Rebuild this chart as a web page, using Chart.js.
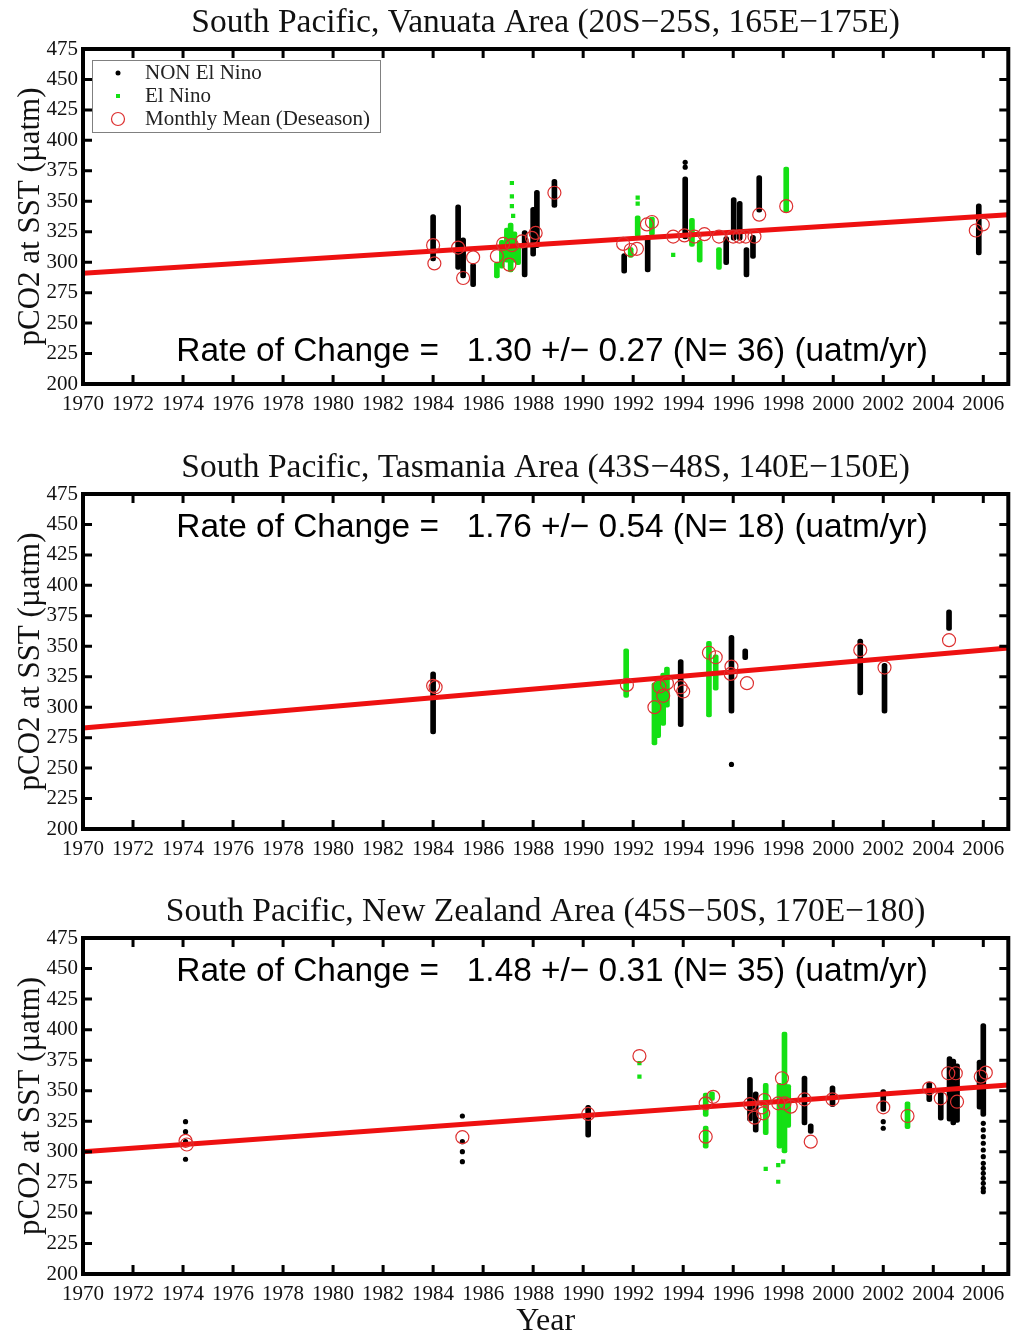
<!DOCTYPE html>
<html>
<head>
<meta charset="utf-8">
<title>South Pacific pCO2</title>
<script src="https://cdn.jsdelivr.net/npm/chart.js@4.4.0/dist/chart.umd.min.js"></script>
<style>
    html, body { margin: 0; padding: 0; background: #fff; }
    body { position: relative; width: 1016px; height: 1339px; overflow: hidden; }
    canvas { position: absolute; left: 0; }
</style>
</head>
<body>
<canvas id="vanuatu" width="1016" height="420" style="top:0px"></canvas>
<canvas id="tasmania" width="1016" height="420" style="top:445px"></canvas>
<canvas id="newzealand" width="1016" height="450" style="top:889px"></canvas>
<script>
    /* DATA */

    var xTickYears = [1970, 1972, 1974, 1976, 1978, 1980, 1982, 1984, 1986, 1988, 1990, 1992, 1994, 1996, 1998, 2000, 2002, 2004, 2006];

    // Vanuata area: columns are [year, low, high], dots and means are [year, value]
    var vanNonCols = [
        [1984.0, 301, 339], [1985.0, 294, 347], [1985.2, 287, 320], [1985.6, 280, 299],
        [1987.66, 288, 326], [1988.0, 305, 345], [1988.15, 312, 359], [1988.85, 345, 368],
        [1991.64, 291, 307], [1992.58, 292, 322], [1994.08, 319, 370], [1995.72, 298, 321],
        [1996.02, 318, 353], [1996.26, 318, 350], [1996.53, 288, 312], [1996.79, 303, 322],
        [1997.04, 341, 371], [2005.82, 306, 348]
    ];
    var vanNonDots = [[1994.08, 378], [1994.08, 382]];
    var vanNinoCols = [
        [1986.55, 287, 300], [1986.75, 295, 318], [1986.95, 300, 328], [1987.1, 292, 332],
        [1987.25, 300, 325], [1987.4, 298, 315], [1991.9, 304, 312], [1992.18, 321, 338],
        [1992.75, 322, 337], [1994.35, 313, 336], [1994.66, 300, 318], [1995.43, 294, 312],
        [1998.12, 341, 378]
    ];
    var vanNinoDots = [[1987.15, 365], [1987.15, 354], [1987.15, 346], [1987.2, 338], [1992.18, 353], [1992.18, 348], [1993.6, 306]];
    var vanMeans = [
        [1984.0, 314], [1984.05, 299], [1985.0, 312], [1985.2, 287], [1985.6, 304],
        [1986.55, 305], [1986.8, 315], [1987.05, 298], [1987.15, 314], [1987.55, 317],
        [1987.95, 320], [1988.1, 324], [1988.85, 357], [1991.6, 315], [1991.9, 310],
        [1992.15, 311], [1992.55, 331], [1992.75, 333], [1993.6, 321], [1994.05, 322],
        [1994.45, 321], [1994.85, 323], [1995.43, 321], [1996.0, 321], [1996.25, 321],
        [1996.5, 321], [1996.85, 321], [1997.04, 339], [1998.12, 346], [2005.7, 326], [2005.98, 331]
    ];
    var vanTrend = [[1970, 291], [2007, 339]];

    // Tasmania area
    var tasNonCols = [
        [1984.0, 278, 329], [1993.9, 284, 339], [1995.93, 295, 359], [1996.48, 339, 348],
        [2001.08, 310, 356], [2002.05, 295, 336], [2004.63, 363, 380]
    ];
    var tasNonDots = [[1995.93, 253]];
    var tasNinoCols = [
        [1991.72, 308, 348], [1992.85, 269, 320], [1993.0, 275, 325], [1993.2, 285, 328],
        [1993.35, 300, 333], [1995.03, 292, 354], [1995.3, 314, 343]
    ];
    var tasNinoDots = [];
    var tasMeans = [
        [1984.0, 317.5], [1984.1, 316.4], [1991.75, 318.3], [1992.85, 300], [1993.2, 309.3],
        [1993.05, 317], [1993.35, 319.7], [1993.9, 316.4], [1994.0, 312.9], [1995.03, 344.7],
        [1995.3, 341], [1995.93, 333.3], [1995.9, 327.3], [1996.55, 319.7], [2001.08, 346.9],
        [2002.05, 332.5], [2004.63, 355]
    ];
    var tasTrend = [[1970, 283], [2007, 348.5]];

    // New Zealand area
    var nzNonCols = [
        [1990.2, 312, 338], [1996.67, 325, 361], [1996.9, 316, 349], [1998.85, 322, 362],
        [1999.1, 315, 323], [1999.97, 337, 354], [2002.0, 333, 351], [2003.84, 341, 357],
        [2004.3, 326, 352], [2004.65, 325, 378], [2004.8, 322, 376], [2004.95, 324, 372],
        [2005.85, 335, 375], [2006.0, 329, 405]
    ];
    var nzNonDots = [
        [1974.1, 324.7], [1974.1, 316.5], [1974.1, 308.3], [1974.1, 293.9],
        [1985.17, 329.3], [1985.17, 308.3], [1985.17, 300.1], [1985.17, 291.9],
        [2002.0, 324.7], [2002.0, 319.3],
        [2006.0, 323.3], [2006.0, 317.9], [2006.0, 312.4], [2006.0, 307], [2006.0, 301.5],
        [2006.0, 296], [2006.0, 290.6], [2006.0, 286.5], [2006.0, 282.4], [2006.0, 278.3],
        [2006.0, 274.2], [2006.0, 270.1], [2006.0, 267.4]
    ];
    var nzNinoCols = [
        [1994.9, 329, 348], [1994.9, 303, 321], [1995.15, 342, 349], [1997.3, 314, 356],
        [1997.85, 303, 356], [1998.05, 299, 398], [1998.2, 320, 355], [2002.97, 319, 341]
    ];
    var nzNinoDots = [[1992.25, 372.5], [1992.25, 361.5], [1997.3, 286], [1997.8, 289.2], [1997.8, 275.5], [1998.0, 292]];
    var nzMeans = [
        [1974.1, 309], [1974.15, 306], [1985.17, 312], [1990.2, 331], [1992.25, 378.4],
        [1994.9, 339.7], [1994.9, 312.4], [1995.2, 345], [1996.67, 339], [1996.85, 328],
        [1997.15, 336.4], [1997.25, 342.4], [1997.2, 331.5], [1997.95, 360.2], [1997.8, 339.7],
        [1998.05, 339.7], [1998.3, 337], [1998.85, 343], [1999.1, 308.3], [1999.97, 343],
        [2002.0, 336.4], [2002.97, 329.3], [2003.84, 352], [2004.3, 343.8], [2004.6, 364.3],
        [2004.9, 364.3], [2004.95, 341], [2005.9, 361.5], [2006.1, 364.8]
    ];
    var nzTrend = [[1970, 300], [2007, 354.7]];

    /* STYLE */

    var SERIF = '"Liberation Serif", "Times New Roman", serif';
    var SANS = '"Liberation Sans", Arial, sans-serif';
    var GREEN = '#14e014';
    var RED = '#ee1111';
    var CIRCLE = '#dd3030';

    /* PLUGINS */

    var framePlugin = {
        id: 'frame',
        afterDatasetsDraw: (chart) => {
            var ctx = chart.ctx;
            var a = chart.chartArea;
            var x = chart.scales.x;
            var y = chart.scales.y;

            ctx.save();
            ctx.strokeStyle = '#000';
            ctx.lineWidth = 3;
            ctx.beginPath();
            x.ticks.forEach(t => {
                var px = x.getPixelForValue(t.value);
                ctx.moveTo(px, a.bottom); ctx.lineTo(px, a.bottom - 9);
                ctx.moveTo(px, a.top); ctx.lineTo(px, a.top + 9);
            });
            y.ticks.forEach(t => {
                var py = y.getPixelForValue(t.value);
                ctx.moveTo(a.left, py); ctx.lineTo(a.left + 9, py);
                ctx.moveTo(a.right, py); ctx.lineTo(a.right - 9, py);
            });
            ctx.stroke();
            ctx.lineWidth = 4;
            ctx.strokeRect(a.left, a.top, a.right - a.left, a.bottom - a.top);
            ctx.restore();
        }
    };

    var ratePlugin = {
        id: 'rate',
        afterDraw: (chart, args, opts) => {
            var ctx = chart.ctx;
            ctx.save();
            ctx.font = '33.4px ' + SANS;
            ctx.fillStyle = '#000';
            ctx.textAlign = 'left';
            ctx.textBaseline = 'middle';
            ctx.fillText(opts.text, chart.scales.x.getPixelForValue(opts.x), chart.scales.y.getPixelForValue(opts.y));
            ctx.restore();
        }
    };

    var keyPlugin = {
        id: 'key',
        afterDraw: (chart, args, opts) => {
            if (!opts.show) return;
            var ctx = chart.ctx;
            var a = chart.chartArea;
            var bx = a.left + 9;
            var by = a.top + 11;

            ctx.save();
            ctx.fillStyle = '#fff';
            ctx.fillRect(bx, by, 288, 72);
            ctx.strokeStyle = '#808080';
            ctx.lineWidth = 1;
            ctx.strokeRect(bx + 0.5, by + 0.5, 288, 72);

            ctx.fillStyle = '#000';
            ctx.beginPath();
            ctx.arc(bx + 26, by + 13, 2.5, 0, Math.PI * 2);
            ctx.fill();

            ctx.fillStyle = GREEN;
            ctx.fillRect(bx + 24, by + 34, 4, 4);

            ctx.strokeStyle = CIRCLE;
            ctx.lineWidth = 1.2;
            ctx.beginPath();
            ctx.arc(bx + 26, by + 59, 6.5, 0, Math.PI * 2);
            ctx.stroke();

            ctx.fillStyle = '#222';
            ctx.font = '21px ' + SERIF;
            ctx.textAlign = 'left';
            ctx.textBaseline = 'middle';
            ctx.fillText('NON El Nino', bx + 53, by + 13);
            ctx.fillText('El Nino', bx + 53, by + 36);
            ctx.fillText('Monthly Mean (Deseason)', bx + 53, by + 59);
            ctx.restore();
        }
    };

    /* CHARTS */

    var toCols = (rows) => rows.map(r => ({ x: r[0], y: [r[1], r[2]] }));
    var toPoints = (rows) => rows.map(r => ({ x: r[0], y: r[1] }));

    var makePanel = (id, panel) => {
        return new Chart(document.getElementById(id), {
            type: 'scatter',
            data: {
                datasets: [
                    { type: 'bar', data: toCols(panel.nonCols), backgroundColor: '#000', barThickness: 5, grouped: false, borderRadius: 2.5, borderSkipped: false, order: 4 },
                    { type: 'scatter', data: toPoints(panel.nonDots), backgroundColor: '#000', borderWidth: 0, pointRadius: 2.6, order: 4 },
                    { type: 'bar', data: toCols(panel.ninoCols), backgroundColor: GREEN, barThickness: 5, grouped: false, borderRadius: 2, borderSkipped: false, order: 3 },
                    { type: 'scatter', data: toPoints(panel.ninoDots), backgroundColor: GREEN, borderWidth: 0, pointStyle: 'rect', pointRadius: 3, order: 3 },
                    { type: 'line', data: toPoints(panel.trend), borderColor: RED, borderWidth: 5, pointRadius: 0, order: 1 },
                    { type: 'scatter', data: toPoints(panel.means), backgroundColor: 'rgba(0,0,0,0)', borderColor: CIRCLE, borderWidth: 1.2, pointRadius: 6.5, order: 0 }
                ]
            },
            options: {
                responsive: false,
                animation: false,
                events: [],
                layout: { padding: { left: 0, right: 3, top: 0, bottom: 0 } },
                scales: {
                    x: {
                        type: 'linear', min: 1970, max: 2007, offset: false,
                        afterBuildTicks: (scale) => { scale.ticks = xTickYears.map(v => ({ value: v })); },
                        afterFit: (scale) => { scale.height = panel.xAxisHeight; },
                        grid: { display: false, drawTicks: false },
                        border: { display: false },
                        ticks: { autoSkip: false, maxRotation: 0, padding: 8, color: '#111', font: { family: SERIF, size: 21 }, callback: v => String(v) },
                        title: { display: panel.showYear, text: 'Year', color: '#111', font: { family: SERIF, size: 32, lineHeight: 1 }, padding: { top: 0, bottom: 1 } }
                    },
                    y: {
                        type: 'linear', min: 200, max: 475,
                        afterFit: (scale) => { scale.width = 83; },
                        grid: { display: false, drawTicks: false },
                        border: { display: false },
                        ticks: { stepSize: 25, padding: 5, color: '#111', font: { family: SERIF, size: 21 } },
                        title: { display: true, text: 'pCO2 at SST (µatm)', color: '#111', font: { family: SERIF, size: 31, lineHeight: 1.2 }, padding: { top: 12, bottom: 0 } }
                    }
                },
                plugins: {
                    legend: { display: false },
                    tooltip: { enabled: false },
                    title: { display: true, text: panel.title, fullSize: false, color: '#111', font: { family: SERIF, size: 33.5, weight: 'normal', lineHeight: 1.2 }, padding: { top: 3, bottom: 5.8 } },
                    rate: { text: panel.rate, x: 1973.73, y: panel.rateY },
                    key: { show: panel.showKey }
                }
            },
            plugins: [framePlugin, ratePlugin, keyPlugin]
        });
    };

    makePanel('vanuatu', {
        title: 'South Pacific, Vanuata Area (20S\u221225S, 165E\u2212175E)',
        rate: 'Rate of Change =   1.30 +/\u2212 0.27 (N= 36) (uatm/yr)',
        rateY: 226.3,
        nonCols: vanNonCols, nonDots: vanNonDots, ninoCols: vanNinoCols, ninoDots: vanNinoDots,
        means: vanMeans, trend: vanTrend,
        showKey: true, showYear: false, xAxisHeight: 36
    });

    makePanel('tasmania', {
        title: 'South Pacific, Tasmania Area (43S\u221248S, 140E\u2212150E)',
        rate: 'Rate of Change =   1.76 +/\u2212 0.54 (N= 18) (uatm/yr)',
        rateY: 447,
        nonCols: tasNonCols, nonDots: tasNonDots, ninoCols: tasNinoCols, ninoDots: tasNinoDots,
        means: tasMeans, trend: tasTrend,
        showKey: false, showYear: false, xAxisHeight: 36
    });

    makePanel('newzealand', {
        title: 'South Pacific, New Zealand Area (45S\u221250S, 170E\u2212180)',
        rate: 'Rate of Change =   1.48 +/\u2212 0.31 (N= 35) (uatm/yr)',
        rateY: 447,
        nonCols: nzNonCols, nonDots: nzNonDots, ninoCols: nzNinoCols, ninoDots: nzNinoDots,
        means: nzMeans, trend: nzTrend,
        showKey: false, showYear: true, xAxisHeight: 65
    });
</script>
</body>
</html>
